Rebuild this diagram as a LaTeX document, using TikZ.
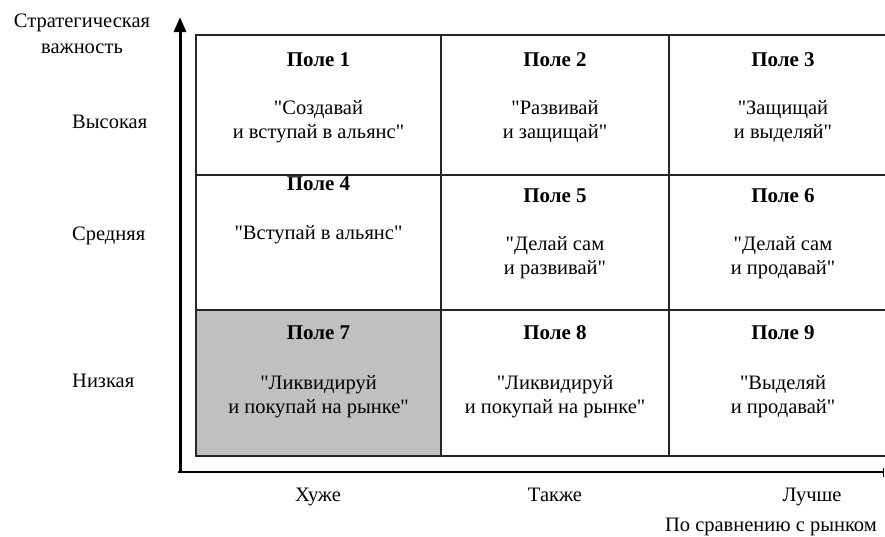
\documentclass[tikz,border=0pt]{standalone}
\usepackage{fontspec}
\setmainfont{Liberation Serif}[Ligatures=TeXOff]
\usetikzlibrary{arrows.meta}
\definecolor{cellgray}{HTML}{C0C0C0}
\tikzset{
  txt/.style={anchor=base, inner sep=0pt, font=\fontsize{20.5}{24}\selectfont},
  ttl/.style={anchor=base, inner sep=0pt, font=\fontsize{21}{24}\selectfont\bfseries},
  gridline/.style={line width=1.3pt, draw=black!85},
  axis/.style={line width=3pt, draw=black},
}
\begin{document}
\begin{tikzpicture}[x=1pt,y=-1pt]
\useasboundingbox (0,0) rectangle (885,536);
% shaded cell
\fill[cellgray] (196,310) rectangle (441,456);
% grid
\draw[gridline] (885,35) -- (196,35) -- (196,456) -- (885,456);
\draw[gridline] (196,175) -- (885,175);
\draw[gridline] (196,310) -- (885,310);
\draw[gridline] (441,35) -- (441,456);
\draw[gridline] (669,35) -- (669,456);
% axes
\coordinate (o) at (180,472);
\coordinate (ytop) at (180,17);
\coordinate (xo) at (178,472);
\coordinate (xend) at (884,472);
\draw[axis, -{Triangle[length=15pt,width=12pt]}] (o) -- (ytop);
\draw[line width=2pt, -{Bar[width=9pt,line width=1.3pt]}] (xo) -- (xend);
% axis titles
\node[txt] (yt1) at (82,27) {Стратегическая};
\node[txt] (yt2) at (82,53) {важность};
\node[txt, anchor=base west] (hi) at (72,128) {Высокая};
\node[txt, anchor=base west] (mid) at (72,240) {Средняя};
\node[txt, anchor=base west] (lo) at (72,387) {Низкая};
\node[txt] (worse) at (318,501) {Хуже};
\node[txt] (same) at (555,501) {Также};
\node[txt] (better) at (812,501) {Лучше};
\node[txt, anchor=base east] (xt) at (877,531) {По сравнению с рынком};
% row 1
\node[ttl] (t1) at (318.5,66) {Поле 1};
\node[txt] (a1) at (318.5,114) {"Создавай};
\node[txt] (b1) at (318.5,138) {и вступай в альянс"};
\node[ttl] (t2) at (555,66) {Поле 2};
\node[txt] (a2) at (555,114) {"Развивай};
\node[txt] (b2) at (555,138) {и защищай"};
\node[ttl] (t3) at (783,66) {Поле 3};
\node[txt] (a3) at (783,114) {"Защищай};
\node[txt] (b3) at (783,138) {и выделяй"};
% row 2
\node[ttl] (t4) at (318.5,190) {Поле 4};
\node[txt] (a4) at (318.5,239) {"Вступай в альянс"};
\node[ttl] (t5) at (555,202) {Поле 5};
\node[txt] (a5) at (555,250) {"Делай сам};
\node[txt] (b5) at (555,274) {и развивай"};
\node[ttl] (t6) at (783,202) {Поле 6};
\node[txt] (a6) at (783,250) {"Делай сам};
\node[txt] (b6) at (783,274) {и продавай"};
% row 3
\node[ttl] (t7) at (318.5,339) {Поле 7};
\node[txt] (a7) at (318.5,389) {"Ликвидируй};
\node[txt] (b7) at (318.5,413) {и покупай на рынке"};
\node[ttl] (t8) at (555,339) {Поле 8};
\node[txt] (a8) at (555,389) {"Ликвидируй};
\node[txt] (b8) at (555,413) {и покупай на рынке"};
\node[ttl] (t9) at (783,339) {Поле 9};
\node[txt] (a9) at (783,389) {"Выделяй};
\node[txt] (b9) at (783,413) {и продавай"};
\end{tikzpicture}
\end{document}
